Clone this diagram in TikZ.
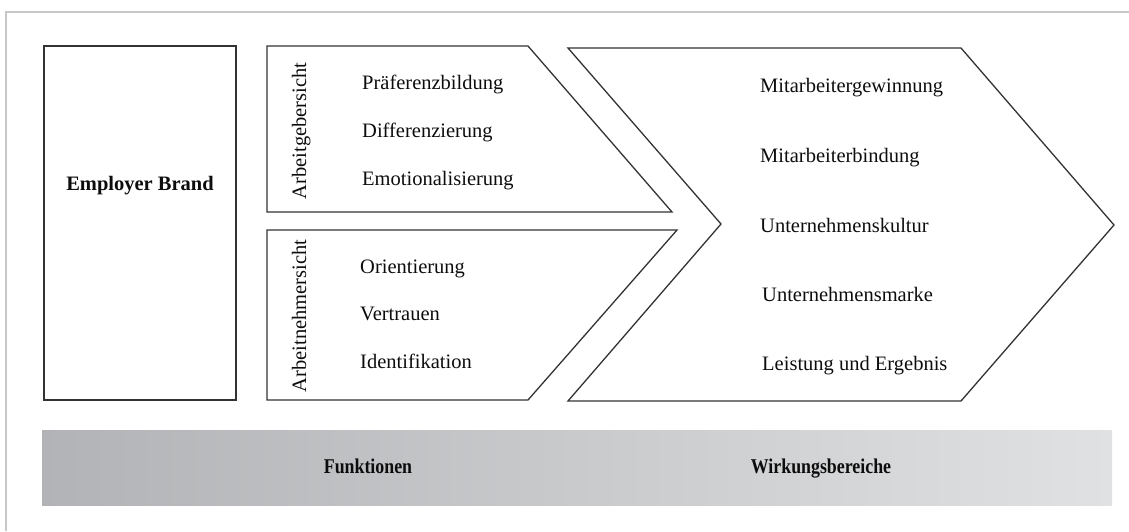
\documentclass[tikz,border=0pt]{standalone}
\usepackage{fontspec}
\setmainfont{Liberation Serif}
\begin{document}
\begin{tikzpicture}[x=1pt,y=-1pt,
  outline/.style={draw=black!80, line width=1.3pt, line join=miter},
  frameline/.style={draw=black!22, line width=1.5pt},
  txt/.style={inner sep=0pt, text=black!95, text height=14pt, text depth=4pt,
    font=\fontsize{20.5}{24}\selectfont},
  item/.style={txt, anchor=west},
  side/.style={txt, rotate=90},
  barlabel/.style={txt, xscale=0.85, font=\fontsize{21}{24}\selectfont\bfseries}]
\useasboundingbox (0,0) rectangle (1129,531);

% outer frame
\draw[frameline] (1129,12) -- (6,12) -- (6,531);

% employer brand box
\draw[outline] (44,46) rectangle (236,400);
\node[txt, font=\fontsize{20.5}{24}\selectfont\bfseries] (brand) at (140,185) {Employer Brand};

% employer perspective arrow piece
\draw[outline] (267,46) -- (528,46) -- (672,212) -- (267,212) -- cycle;
\node[side] (ag) at (301,131) {Arbeitgebersicht};
\node[item] (f1) at (362,84) {Präferenzbildung};
\node[item] (f2) at (362,132) {Differenzierung};
\node[item] (f3) at (362,180) {Emotionalisierung};

% employee perspective arrow piece
\draw[outline] (267,230) -- (677,230) -- (528,400) -- (267,400) -- cycle;
\node[side] (an) at (301,316) {Arbeitnehmersicht};
\node[item] (f4) at (360,268) {Orientierung};
\node[item] (f5) at (360,315) {Vertrauen};
\node[item] (f6) at (360,363) {Identifikation};

% effects chevron
\draw[outline] (568,48) -- (961,48) -- (1114,225) -- (961,401) -- (568,401) -- (721,224) -- cycle;
\node[item] (w1) at (760,87) {Mitarbeitergewinnung};
\node[item] (w2) at (760,157) {Mitarbeiterbindung};
\node[item] (w3) at (760,227) {Unternehmenskultur};
\node[item] (w4) at (762,296) {Unternehmensmarke};
\node[item] (w5) at (762,365) {Leistung und Ergebnis};

% bottom bar
\shade[left color={rgb,255:red,178;green,179;blue,182}, right color={rgb,255:red,224;green,225;blue,226}]
  (42,430) rectangle (1112,505);
\node[barlabel] (fn) at (368,468) {Funktionen};
\node[barlabel] (wb) at (821,468) {Wirkungsbereiche};
\end{tikzpicture}
\end{document}
